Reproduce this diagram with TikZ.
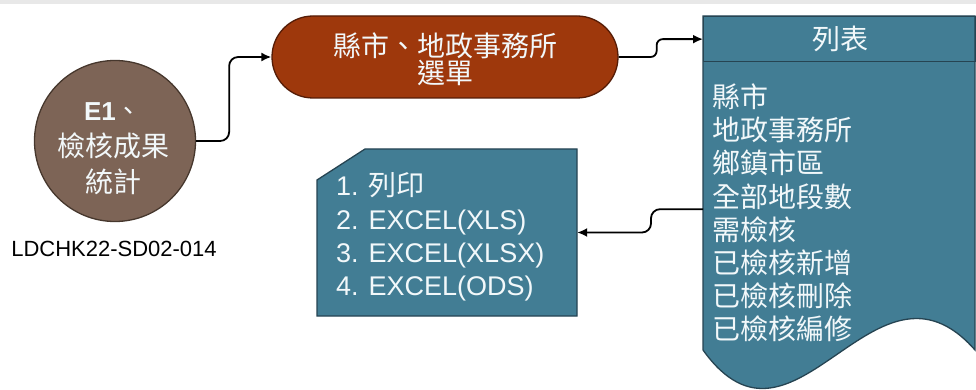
\documentclass[tikz,border=0pt]{standalone}
\usepackage{fontspec}
\setmainfont{Liberation Sans}
\newfontfamily\cjk{Noto Sans CJK TC}
\usetikzlibrary{arrows.meta,shapes.misc}
\definecolor{tealc}{RGB}{66,125,148}
\definecolor{teald}{RGB}{38,68,82}
\definecolor{brownc}{RGB}{125,100,86}
\definecolor{brownd}{RGB}{70,55,45}
\definecolor{redc}{RGB}{158,56,12}
\definecolor{redd}{RGB}{85,28,6}
\definecolor{txtc}{RGB}{242,248,250}
\begin{document}
\begin{tikzpicture}[x=1pt,y=-1pt,
  conn/.style={line width=1.8pt,-{Latex[length=10pt,width=9pt]},rounded corners=9pt},
  cjkt/.style={text=txtc,inner sep=0pt,font=\cjk\fontsize{28}{28}\selectfont},
  lat/.style={text=txtc,inner sep=0pt,font=\fontsize{27}{27}\selectfont}]
\useasboundingbox (0,0) rectangle (976,390);
\fill[gray!18] (0,0) rectangle (976,4);

% start circle
\node[circle,draw=brownd,line width=1.3pt,fill=brownc,minimum size=161pt,inner sep=0pt] (start) at (115,141) {};
\node[text=txtc,inner sep=0pt,anchor=base,font=\fontsize{26}{26}\selectfont\bfseries] (e1) at (113,121) {E1\cjk\mdseries 、};
\node[cjkt,anchor=base] (c1) at (113,157) {檢核成果};
\node[cjkt,anchor=base] (c2) at (113,192) {統計};
\node[inner sep=0pt,anchor=base,font=\fontsize{22}{22}\selectfont] (code) at (114,256) {LDCHK22-SD02-014};

% menu
\node[rounded rectangle,draw=redd,line width=1.3pt,fill=redc,minimum width=346pt,minimum height=82pt,inner sep=0pt] (menu) at (445,57) {};
\node[cjkt,anchor=base] (m1) at (445,57) {縣市、地政事務所};
\node[cjkt,anchor=base] (m2) at (445,84) {選單};

% list document
\path[fill=tealc,draw=teald,line width=1.3pt] (703,16) -- (975,16) -- (975,350)
  .. controls (874.6,236) and (794.6,478) .. (703,350) -- cycle;
\node[draw=teald,line width=1.3pt,minimum width=272pt,minimum height=45pt,inner sep=0pt,anchor=north west] (hdr) at (703,16) {};
\node[cjkt,anchor=base] (hdrt) at (840,50) {列表};
\node[minimum width=272pt,minimum height=296pt,inner sep=0pt,anchor=north west] (listbody) at (703,61) {};
\foreach \t [count=\i] in {縣市,地政事務所,鄉鎮市區,全部地段數,需檢核,已檢核新增,已檢核刪除,已檢核編修}
  \node[cjkt,anchor=base west] (l\i) at (712,{108+33*(\i-1)}) {\t};

% output box
\path[fill=tealc,draw=teald,line width=1.3pt] (317,180) -- (365,149) -- (577,149) -- (577,316) -- (317,316) -- cycle;
\node[minimum width=260pt,minimum height=167pt,inner sep=0pt] (outbox) at (447,232.5) {};
\node[lat,anchor=base west] (o1) at (336,195) {1. {\cjk\fontsize{28}{28}\selectfont 列印}};
\node[lat,anchor=base west] (o2) at (336,229) {2. EXCEL(XLS)};
\node[lat,anchor=base west] (o3) at (336,262) {3. EXCEL(XLSX)};
\node[lat,anchor=base west] (o4) at (336,295) {4. EXCEL(ODS)};

% connectors
\draw[conn] (start.east) -- ++(33,0) |- (menu.west);
\draw[conn,rounded corners=6pt] (menu.east) -- ++(38,0) |- (hdr.west);
\draw[conn] (listbody.west) -- ++(-52,0) |- (outbox.east);
\end{tikzpicture}
\end{document}
